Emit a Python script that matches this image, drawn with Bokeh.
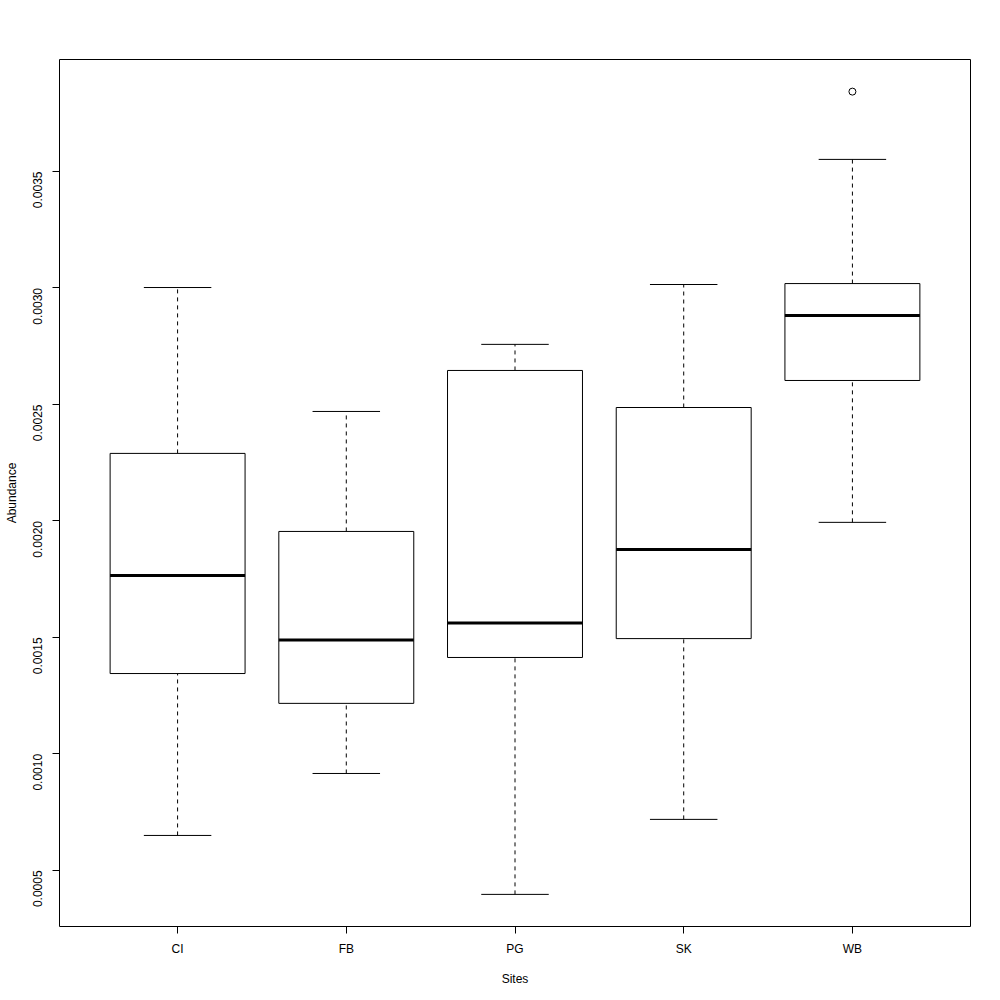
import math
from bokeh.plotting import figure
from bokeh.models import Range1d, FixedTicker, ColumnDataSource
from bokeh.embed import file_html
from bokeh.resources import INLINE

sites = ["CI", "FB", "PG", "SK", "WB"]
lower_whisker = [0.000650, 0.000916, 0.000397, 0.000719, 0.001994]
q1 = [0.001345, 0.001217, 0.001414, 0.001495, 0.002603]
median = [0.001766, 0.001489, 0.001562, 0.001878, 0.002882]
q3 = [0.002290, 0.001955, 0.002646, 0.002487, 0.003019]
upper_whisker = [0.003002, 0.002470, 0.002758, 0.003015, 0.003552]
outlier_site = ["WB"]
outlier_value = [0.003843]
y_ticks = [0.0005, 0.0010, 0.0015, 0.0020, 0.0025, 0.0030, 0.0035]

xpos = [i + 1 for i in range(len(sites))]
half_box = 0.4
half_cap = 0.2

src = ColumnDataSource(dict(
    x=xpos,
    lo=lower_whisker, q1=q1, med=median, q3=q3, hi=upper_whisker,
    box_l=[x - half_box for x in xpos], box_r=[x + half_box for x in xpos],
    cap_l=[x - half_cap for x in xpos], cap_r=[x + half_cap for x in xpos],
))

ymin = min(lower_whisker + outlier_value)
ymax = max(upper_whisker + outlier_value)
pad = (ymax - ymin) * 0.04

p = figure(width=984, height=988, output_backend="svg", toolbar_location=None,
           x_range=Range1d(0.5 - 0.2, len(sites) + 0.5 + 0.2),
           y_range=Range1d(ymin - pad, ymax + pad),
           min_border_left=59, min_border_right=14, min_border_top=59,
           min_border_bottom=62)
p.xgrid.visible = False
p.ygrid.visible = False
p.outline_line_color = "black"
p.outline_line_width = 1
p.outline_line_alpha = 1

FONT = "Liberation Sans"
for ax in (p.xaxis[0], p.yaxis[0]):
    ax.axis_line_color = None
    ax.major_tick_in = 0
    ax.major_tick_out = 7
    ax.minor_tick_line_color = None
    ax.major_tick_line_color = "black"
    ax.major_label_text_font = FONT
    ax.major_label_text_font_size = "12px"
    ax.major_label_text_color = "black"
    ax.axis_label_text_font = FONT
    ax.axis_label_text_font_size = "12px"
    ax.axis_label_text_font_style = "normal"
    ax.axis_label_text_color = "black"

p.xaxis.ticker = FixedTicker(ticks=xpos)
p.xaxis.major_label_overrides = {x: s for x, s in zip(xpos, sites)}
p.xaxis.axis_label = "Sites"
p.xaxis.major_label_standoff = 8
p.xaxis.axis_label_standoff = 13

p.yaxis.ticker = FixedTicker(ticks=y_ticks)
p.yaxis.major_label_overrides = {t: f"{t:.4f}" for t in y_ticks}
p.yaxis.major_label_orientation = math.pi / 2
p.yaxis.axis_label = "Abundance"
p.yaxis.major_label_standoff = 15
p.yaxis.axis_label_standoff = 7

# whiskers (dashed)
p.segment(x0="x", y0="q3", x1="x", y1="hi", source=src, line_color="black",
          line_width=1, line_dash="4 4")
p.segment(x0="x", y0="lo", x1="x", y1="q1", source=src, line_color="black",
          line_width=1, line_dash="4 4")
# caps
p.segment(x0="cap_l", y0="hi", x1="cap_r", y1="hi", source=src, line_color="black", line_width=1)
p.segment(x0="cap_l", y0="lo", x1="cap_r", y1="lo", source=src, line_color="black", line_width=1)
# boxes
p.quad(left="box_l", right="box_r", bottom="q1", top="q3", source=src,
       fill_color="white", line_color="black", line_width=1)
# medians
p.segment(x0="box_l", y0="med", x1="box_r", y1="med", source=src,
          line_color="black", line_width=3)
# outliers
ox = [xpos[sites.index(s)] for s in outlier_site]
p.scatter(x=ox, y=outlier_value, marker="circle", size=7, fill_color=None,
          line_color="black", line_width=1)

open("out.html", "w").write(file_html(p, INLINE))
